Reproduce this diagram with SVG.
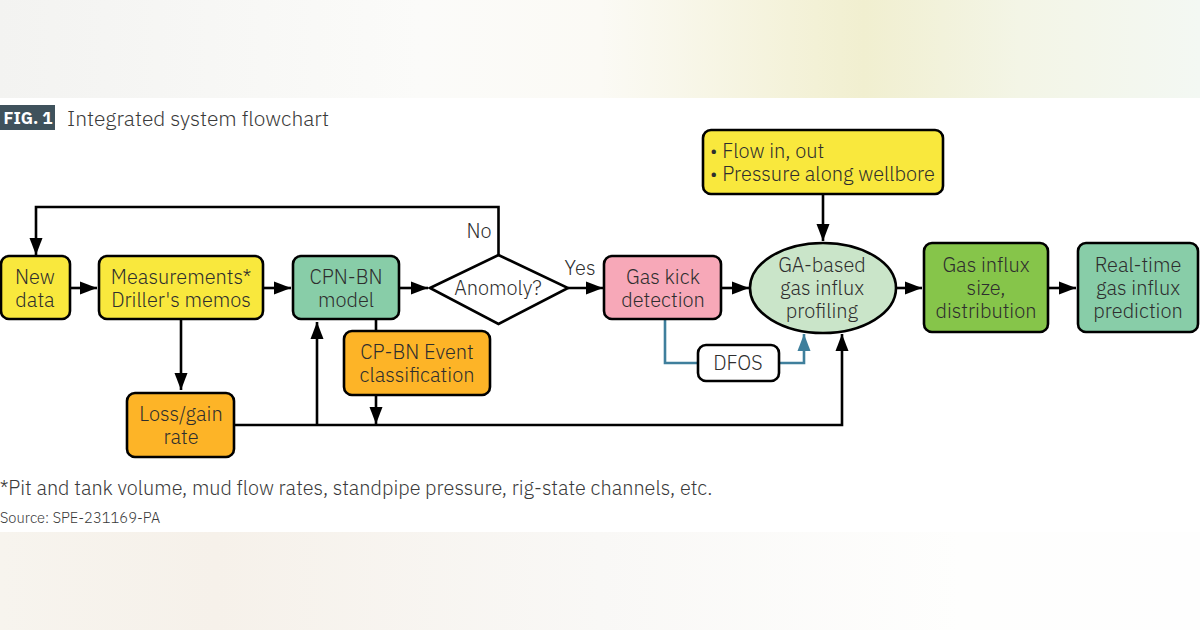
<svg xmlns="http://www.w3.org/2000/svg" width="1200" height="630" viewBox="0 0 1200 630">
<defs>
<linearGradient id="top" x1="0" x2="1" y1="0" y2="0"><stop offset="0" stop-color="#f3f3f1"/><stop offset="0.35" stop-color="#fbfbf9"/><stop offset="0.5" stop-color="#fbfaf5"/><stop offset="0.68" stop-color="#f3f1d6"/><stop offset="0.72" stop-color="#f1efd0"/><stop offset="0.85" stop-color="#f3f5e6"/><stop offset="1" stop-color="#f3f8f3"/></linearGradient>
<linearGradient id="bot" x1="0" x2="1" y1="0" y2="0"><stop offset="0" stop-color="#f7f4ee"/><stop offset="0.18" stop-color="#f6f1ea"/><stop offset="0.5" stop-color="#f9f8f6"/><stop offset="0.8" stop-color="#fefefd"/><stop offset="1" stop-color="#fefefe"/></linearGradient>
<marker id="a" markerUnits="userSpaceOnUse" markerWidth="18" markerHeight="14" refX="17" refY="7" orient="auto"><path d="M0 0.5L17 7L0 13.5z" fill="#000"/></marker>
<marker id="t" markerUnits="userSpaceOnUse" markerWidth="18" markerHeight="14" refX="17" refY="7" orient="auto"><path d="M0 0.5L17 7L0 13.5z" fill="#3f7f9c"/></marker>
</defs>
<style>
.n{stroke:#000;stroke-width:2.6}
text{font-family:"IBM Plex Sans","Noto Sans","Liberation Sans",sans-serif;font-size:20px;font-weight:300;fill:#2e2e2e;text-anchor:middle}
.c path{fill:none;stroke:#000;stroke-width:2.6}
.l{text-anchor:start}
</style>
<rect width="1200" height="630" fill="#fff"/>
<rect width="1200" height="98" fill="url(#top)"/>
<rect y="532" width="1200" height="98" fill="url(#bot)"/>
<g id="title">
<rect x="0" y="105" width="55" height="25" fill="#3f525c"/>
<text x="28" y="124" style="font-size:17px;font-weight:700;fill:#fff">FIG. 1</text>
<text class="l" x="67" y="126" style="font-size:21px;fill:#3a3a3a">Integrated system flowchart</text>
</g>
<g class="c" id="connectors">
<path d="M498.500 255V207H36V255" marker-end="url(#a)"/>
<path d="M70 288H97" marker-end="url(#a)"/>
<path d="M263 288H291" marker-end="url(#a)"/>
<path d="M399 288H428" marker-end="url(#a)"/>
<path d="M568 288H603" marker-end="url(#a)"/>
<path d="M721 288H749" marker-end="url(#a)"/>
<path d="M896 288H922" marker-end="url(#a)"/>
<path d="M1048 288H1076" marker-end="url(#a)"/>
<path d="M823 194V241" marker-end="url(#a)"/>
<path d="M181 319V390" marker-end="url(#a)"/>
<path d="M376 319V331"/>
<path d="M376 395V424" marker-end="url(#a)"/>
<path d="M234 425H842V334" marker-end="url(#a)"/>
<path d="M317 425V322" marker-end="url(#a)"/>
<path d="M665 319V363H698" style="stroke:#3f7f9c"/>
<path d="M779 363H804V334" style="stroke:#3f7f9c" marker-end="url(#t)"/>
</g>
<g id="new-data"><rect class="n" x="1" y="256" width="69" height="63" rx="8" fill="#f9e83d"/><text y="284"><tspan x="35">New</tspan><tspan x="35" dy="23">data</tspan></text></g>
<g id="measurements"><rect class="n" x="99" y="256" width="164" height="63" rx="8" fill="#f9e83d"/><text y="284"><tspan x="181">Measurements*</tspan><tspan x="181" dy="23">Driller's memos</tspan></text></g>
<g id="cpn-bn"><rect class="n" x="293" y="256" width="106" height="63" rx="8" fill="#88cda8"/><text y="284"><tspan x="346">CPN-BN</tspan><tspan x="346" dy="23">model</tspan></text></g>
<g id="anomoly"><path class="n" d="M430 288L498.500 255L568 288L498.500 324z" fill="#fff"/><text x="498" y="295">Anomoly?</text></g>
<text id="no" x="479" y="238">No</text>
<text id="yes" x="580" y="275">Yes</text>
<g id="gas-kick"><rect class="n" x="604" y="256" width="117" height="63" rx="8" fill="#f7a8b8"/><text y="284"><tspan x="663">Gas kick</tspan><tspan x="663" dy="23">detection</tspan></text></g>
<g id="flow"><rect class="n" x="703" y="130" width="240" height="64" rx="8" fill="#f9e83d"/><text class="l" y="158"><tspan x="710">• Flow in, out</tspan><tspan x="710" dy="23">• Pressure along wellbore</tspan></text></g>
<g id="ga"><ellipse class="n" cx="823" cy="288" rx="73" ry="45" fill="#cae5c9"/><text y="272"><tspan x="822">GA-based</tspan><tspan x="822" dy="23">gas influx</tspan><tspan x="822" dy="23">profiling</tspan></text></g>
<g id="size"><rect class="n" x="924" y="243" width="124" height="89" rx="8" fill="#86c54a"/><text y="272"><tspan x="986">Gas influx</tspan><tspan x="986" dy="23">size,</tspan><tspan x="986" dy="23">distribution</tspan></text></g>
<g id="realtime"><rect class="n" x="1078" y="243" width="120" height="89" rx="8" fill="#88cda8"/><text y="272"><tspan x="1138">Real-time</tspan><tspan x="1138" dy="23">gas influx</tspan><tspan x="1138" dy="23">prediction</tspan></text></g>
<g id="loss"><rect class="n" x="127" y="393" width="107" height="64" rx="8" fill="#fdb427"/><text y="421"><tspan x="181">Loss/gain</tspan><tspan x="181" dy="23">rate</tspan></text></g>
<g id="event"><rect class="n" x="344" y="331" width="146" height="64" rx="8" fill="#fdb427"/><text y="359"><tspan x="417">CP-BN Event</tspan><tspan x="417" dy="23">classification</tspan></text></g>
<g id="dfos"><rect class="n" x="698" y="345" width="81" height="36" rx="8" fill="#fff"/><text x="738" y="370">DFOS</text></g>
<text class="l" id="note" x="0" y="495" style="font-size:19.900px;fill:#3a3a3a">*Pit and tank volume, mud flow rates, standpipe pressure, rig-state channels, etc.</text>
<text class="l" id="source" x="0" y="523" style="font-size:14.700px;fill:#3a3a3a">Source: SPE-231169-PA</text>
</svg>
